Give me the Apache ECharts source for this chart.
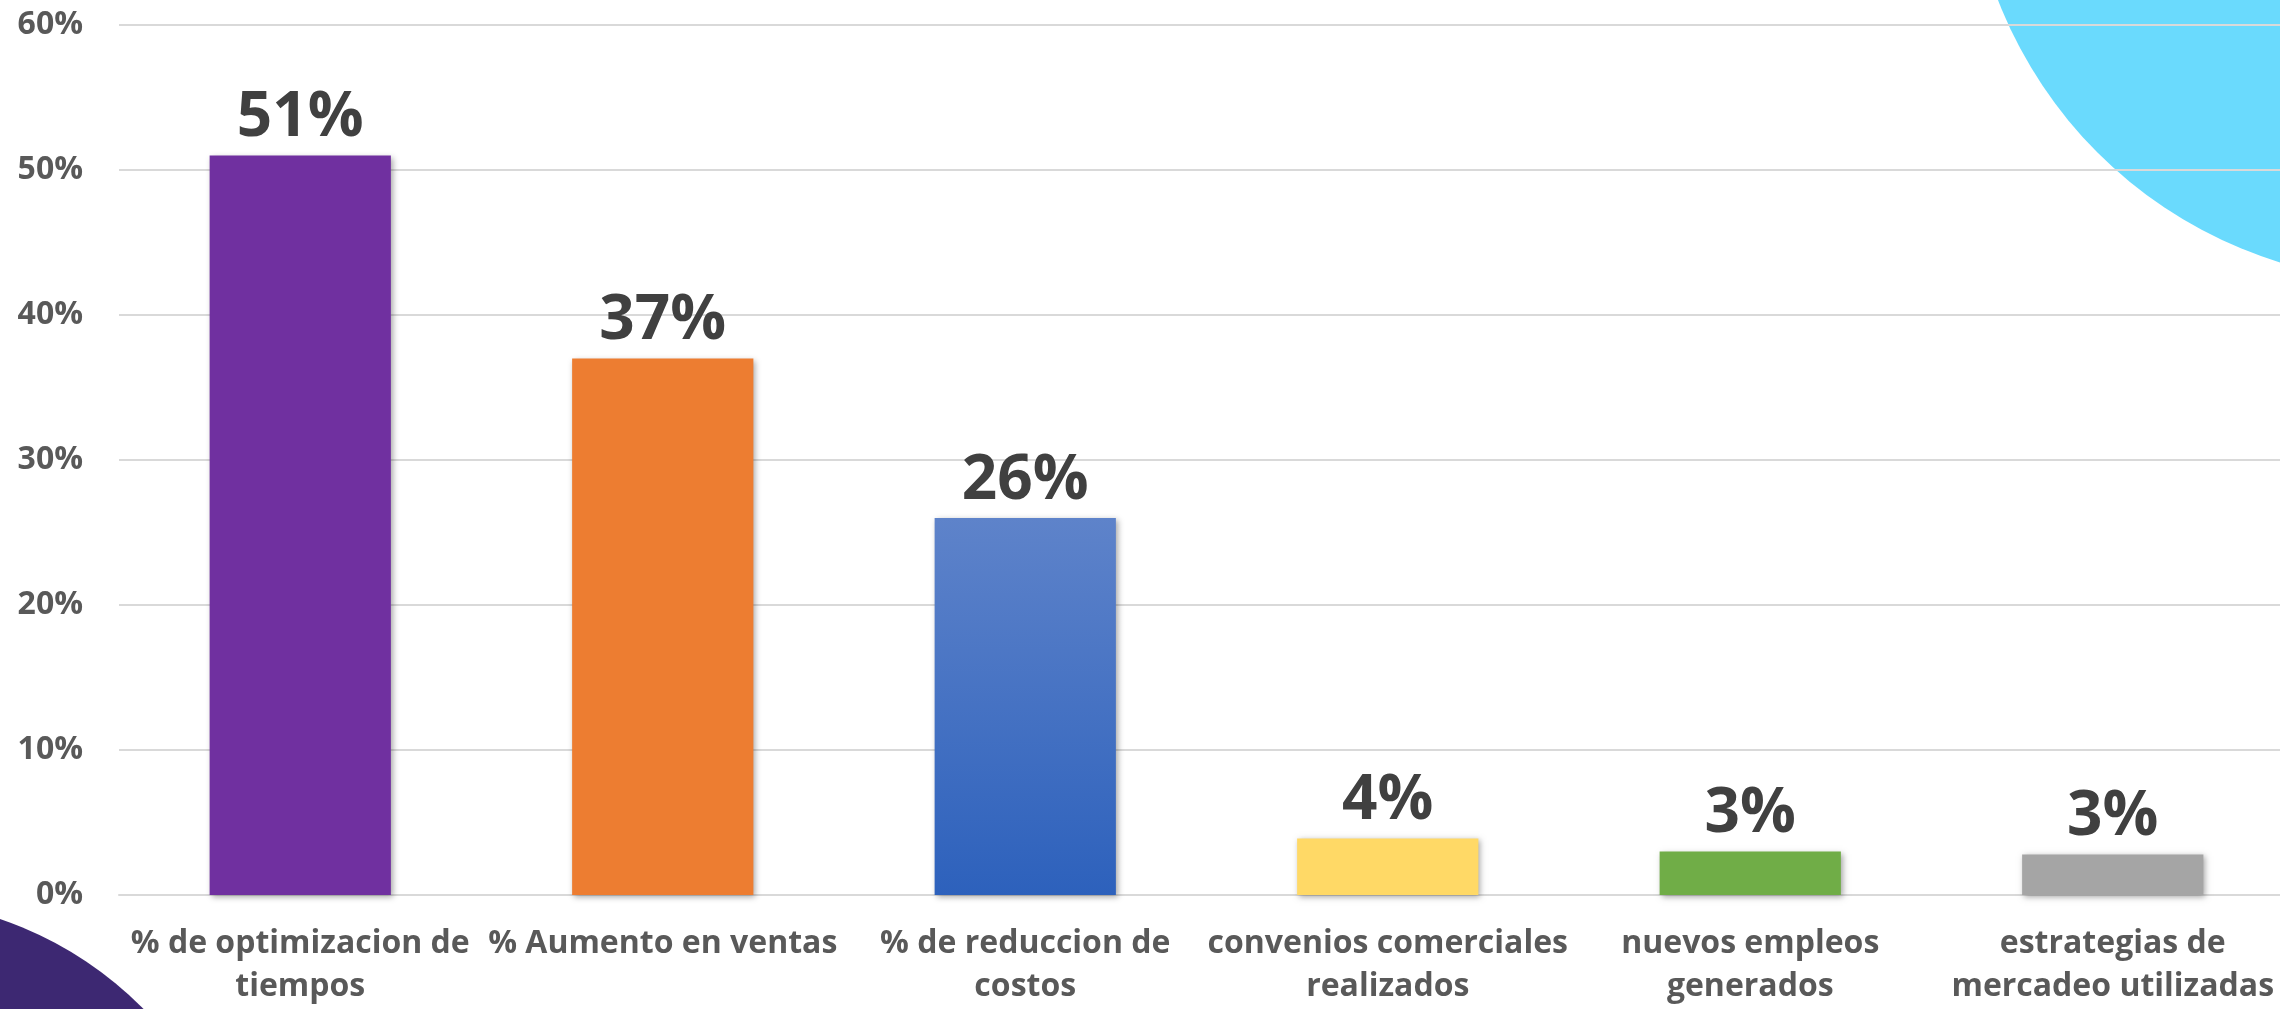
<!DOCTYPE html>
<html>
<head>
<meta charset="utf-8">
<script src="https://cdn.jsdelivr.net/npm/echarts@6/dist/echarts.min.js"></script>
<style>
  html, body { margin: 0; padding: 0; background: #ffffff; }
  #chart { width: 2280px; height: 1009px; }
</style>
</head>
<body>
<div id="chart"></div>
<script>
// datos del grafico
const categories = [
  "% de optimizacion de\ntiempos",
  "% Aumento en ventas",
  "% de reduccion de\ncostos",
  "convenios comerciales\nrealizados",
  "nuevos empleos\ngenerados",
  "estrategias de\nmercadeo utilizadas"
];
const values = [51, 37, 26, 3.9, 3.0, 2.8];
const yTicks = [0, 10, 20, 30, 40, 50, 60];

const barColors = [
  "#7030a0",
  "#ed7d31",
  new echarts.graphic.LinearGradient(0, 0, 0, 1, [
    { offset: 0, color: "#5e83ca" },
    { offset: 1, color: "#2d61bc" }
  ]),
  "#ffd966",
  "#70ad47",
  "#a5a5a5"
];

let myChart = echarts.init(document.getElementById("chart"));
myChart.setOption({
  animation: false,
  backgroundColor: "#ffffff",
  textStyle: { fontFamily: "Open Sans" },
  graphic: [
    {
      type: "circle",
      z: -10,
      shape: { cx: 2410, cy: -160, r: 442 },
      style: { fill: "#6adafd" }
    },
    {
      type: "circle",
      z: -10,
      shape: { cx: -120, cy: 1270, r: 371 },
      style: { fill: "#3d2872" }
    }
  ],
  grid: {
    left: 119,
    top: 25,
    width: 2175,
    bottom: 114,
    containLabel: false,
    outerBoundsMode: "none"
  },
  xAxis: {
    type: "category",
    data: categories,
    axisTick: { show: false },
    axisLine: { lineStyle: { color: "#d9d9d9", width: 2 } },
    axisLabel: {
      interval: 0,
      margin: 27,
      color: "#595959",
      fontSize: 32,
      fontWeight: "bold",
      lineHeight: 43,
      fontFamily: "Open Sans"
    }
  },
  yAxis: {
    type: "value",
    min: yTicks[0],
    max: yTicks[yTicks.length - 1],
    interval: 10,
    axisLine: { show: false },
    axisTick: { show: false },
    splitLine: { lineStyle: { color: "#d9d9d9", width: 2 } },
    axisLabel: {
      margin: 36,
      color: "#595959",
      fontSize: 32,
      fontWeight: "bold",
      fontFamily: "Open Sans",
      formatter: "{value}%"
    }
  },
  series: [
    {
      type: "bar",
      barWidth: "50%",
      data: values.map((v, i) => ({
        value: v,
        itemStyle: { color: barColors[i] }
      })),
      itemStyle: {
        shadowBlur: 6,
        shadowColor: "rgba(0,0,0,0.35)",
        shadowOffsetX: 2,
        shadowOffsetY: 2
      },
      label: {
        show: true,
        position: "top",
        distance: 6,
        color: "#404040",
        fontSize: 62,
        fontWeight: "bold",
        fontFamily: "Open Sans",
        formatter: (p) => Math.round(p.value) + "%"
      }
    }
  ]
});
</script>
</body>
</html>
